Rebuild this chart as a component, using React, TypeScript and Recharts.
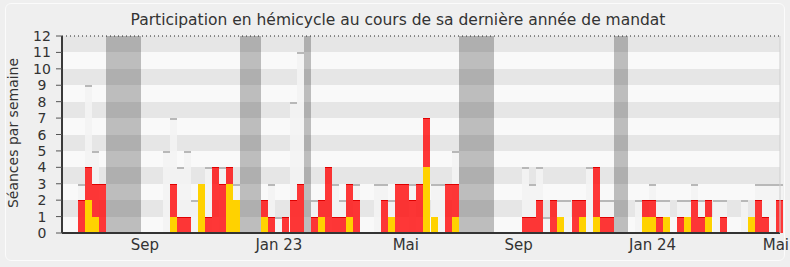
import { Bar, BarChart, CartesianGrid, ReferenceArea, ReferenceLine, XAxis, YAxis } from 'recharts';

// one entry per week, median of all deputies / presence / interventions
const MEDIANE = [
  0, 0, 3, 9, 5, 0, 0, 0, 0, 0,
  0, 0, 0, 0, 5, 7, 4, 5, 2, 0,
  4, 0, 4, 0, 3, 0, 0, 0, 0, 3,
  1, 0, 8, 11, 0, 2, 0, 0, 3, 2,
  0, 3, 0, 0, 3, 3, 2, 0, 0, 3,
  0, 0, 3, 3, 0, 5, 0, 0, 0, 0,
  0, 0, 0, 0, 0, 4, 3, 4, 1, 0,
  2, 2, 0, 0, 4, 0, 2, 2, 0, 0,
  0, 2, 0, 3, 2, 2, 0, 2, 2, 3,
  2, 0, 2, 2, 0, 0, 2, 0, 3, 3,
  3, 3,
];
const PRESENCES = [
  0, 0, 2, 4, 3, 3, 0, 0, 0, 0,
  0, 0, 0, 0, 0, 3, 1, 1, 0, 3,
  1, 4, 3, 4, 2, 0, 0, 0, 2, 1,
  0, 1, 2, 3, 0, 1, 2, 4, 1, 1,
  3, 2, 0, 0, 0, 2, 1, 3, 3, 2,
  3, 7, 1, 0, 3, 3, 0, 0, 0, 0,
  0, 0, 0, 0, 0, 1, 1, 2, 0, 2,
  1, 0, 2, 2, 0, 4, 1, 1, 0, 0,
  0, 0, 2, 2, 1, 1, 0, 1, 1, 2,
  1, 2, 0, 1, 0, 0, 0, 1, 2, 1,
  0, 2,
];
const INTERVENTIONS = [
  0, 0, 0, 2, 1, 0, 0, 0, 0, 0,
  0, 0, 0, 0, 0, 1, 0, 0, 0, 3,
  0, 0, 0, 3, 2, 0, 0, 0, 1, 0,
  0, 0, 0, 0, 0, 0, 1, 0, 0, 0,
  1, 0, 0, 0, 0, 0, 1, 0, 0, 0,
  0, 4, 1, 0, 0, 1, 0, 0, 0, 0,
  0, 0, 0, 0, 0, 0, 0, 0, 0, 0,
  1, 0, 0, 1, 0, 1, 0, 0, 0, 0,
  0, 0, 1, 1, 0, 1, 0, 0, 1, 0,
  0, 1, 0, 0, 0, 0, 0, 1, 0, 0,
  0, 0,
];
const VACANCES: [number, number][] = [[6, 10], [25, 27], [34, 34], [56, 60], [78, 79]];
const MOIS_SEMAINES = [11, 30, 48, 64, 83, 101];
const MOIS_LABELS = ['Sep', 'Jan 23', 'Mai', 'Sep', 'Jan 24', 'Mai'];
const Y_TICKS = [0, 1, 2, 3, 4, 5, 6, 7, 8, 9, 10, 11, 12];

const FONT = 'DejaVu Sans, Verdana, sans-serif';
const PAD = { left: 1.9, right: -3 };

const data = MEDIANE.map((m, i) => ({
  w: i,
  mediane: m,
  presences: PRESENCES[i],
  interventions: INTERVENTIONS[i],
}));

type ShapeProps = { x?: number; y?: number; width?: number; height?: number };

function MedianeShape({ x = 0, y = 0, width = 0, height = 0 }: ShapeProps) {
  if (!height) return <g />;
  return (
    <g shapeRendering="crispEdges">
      <rect x={x} y={y} width={width} height={height} fill="#f3f3f3" fillOpacity={0.9} />
      <rect x={x} y={y} width={width} height={2} fill="#b8b8b8" />
    </g>
  );
}

function PresenceShape({ x = 0, y = 0, width = 0, height = 0 }: ShapeProps) {
  if (!height) return <g />;
  return (
    <g shapeRendering="crispEdges">
      <rect x={x} y={y} width={width} height={height} fill="#ff0000" fillOpacity={0.78} />
      <rect x={x} y={y} width={width} height={1} fill="#e00000" />
    </g>
  );
}

function InterventionShape({ x = 0, y = 0, width = 0, height = 0 }: ShapeProps) {
  if (!height) return <g />;
  return <rect x={x} y={y} width={width} height={height} fill="#ffd200" shapeRendering="crispEdges" />;
}

function MonthTick({ x = 0, payload }: { x?: number; payload?: { value: number } }) {
  const i = MOIS_SEMAINES.indexOf(payload?.value ?? -1);
  if (i < 0) return <g />;
  // keep the last label inside the picture
  const last = x + 14 > 790;
  return (
    <text
      x={last ? 789 : x}
      y={250}
      textAnchor={last ? 'end' : 'middle'}
      fontSize={15}
      fill="#333"
      fontFamily={FONT}
    >
      {MOIS_LABELS[i]}
    </text>
  );
}

function CountTick({ y, payload }: { y?: number; payload?: { value: number } }) {
  return (
    <text x={42} y={y} dy="0.36em" textAnchor="middle" fontSize={14} fill="#333" fontFamily={FONT}>
      {payload?.value}
    </text>
  );
}

export default function App() {
  return (
    <div style={{ position: 'absolute', left: 0, top: 0, width: 790, height: 267, background: '#efefef' }}>
      <div
        style={{
          position: 'absolute', left: 5, top: 3, width: 778, height: 256,
          border: '1px solid #fbfbfb', borderRadius: 6,
        }}
      />
      <div style={{ position: 'absolute', left: 0, top: 0 }}>
        <BarChart
          width={790}
          height={267}
          data={data}
          margin={{ top: 36, right: 0, bottom: 0, left: 0 }}
          barCategoryGap={0}
          barGap={0}
        >
          <CartesianGrid
            xAxisId="m"
            yAxisId="v"
            vertical={false}
            stroke="none"
            horizontalFill={['#e6e6e6', '#f9f9f9']}
          />
          <XAxis xAxisId="r" dataKey="w" type="category" hide height={0} padding={PAD} />
          <XAxis xAxisId="j" dataKey="w" type="category" hide height={0} padding={PAD} />
          <XAxis
            xAxisId="m"
            dataKey="w"
            type="category"
            height={34}
            padding={PAD}
            ticks={MOIS_SEMAINES}
            interval={0}
            tickLine={false}
            axisLine={false}
            tick={<MonthTick />}
          />
          <YAxis
            yAxisId="v"
            domain={[0, 12]}
            ticks={Y_TICKS}
            interval={0}
            width={62}
            allowDataOverflow
            tickSize={6}
            tickLine={{ stroke: '#555' }}
            axisLine={{ stroke: '#3a3a3a', strokeWidth: 2 }}
            tick={<CountTick />}
          />
          <YAxis
            yAxisId="rt"
            orientation="right"
            domain={[0, 12]}
            width={10}
            tick={false}
            tickLine={false}
            axisLine={{ stroke: '#cfcfcf' }}
          />
          {VACANCES.map(([a, b]) => (
            <ReferenceArea
              key={a}
              xAxisId="m"
              yAxisId="v"
              x1={a}
              x2={b}
              y1={0}
              y2={12}
              fill="#000"
              fillOpacity={0.24}
              stroke="none"
              shapeRendering="crispEdges"
            />
          ))}
          <ReferenceLine xAxisId="m" yAxisId="v" y={12} stroke="#222" strokeDasharray="1 3" />
          <Bar xAxisId="m" yAxisId="v" dataKey="mediane" shape={<MedianeShape />} isAnimationActive={false} />
          <Bar xAxisId="r" yAxisId="v" dataKey="presences" shape={<PresenceShape />} isAnimationActive={false} />
          <Bar xAxisId="j" yAxisId="v" dataKey="interventions" shape={<InterventionShape />} isAnimationActive={false} />
          <ReferenceLine xAxisId="m" yAxisId="v" y={0} stroke="#333" strokeWidth={2} ifOverflow="visible" />
        </BarChart>
      </div>
      <svg width={790} height={267} style={{ position: 'absolute', left: 0, top: 0, pointerEvents: 'none' }}>
        <text x={398} y={25} textAnchor="middle" fontSize={15.5} fill="#333" fontFamily={FONT}>
          Participation en hémicycle au cours de sa dernière année de mandat
        </text>
        <text
          x={18}
          y={133}
          transform="rotate(-90 18 133)"
          textAnchor="middle"
          fontSize={14}
          fill="#333"
          fontFamily={FONT}
        >
          Séances par semaine
        </text>
      </svg>
    </div>
  );
}
